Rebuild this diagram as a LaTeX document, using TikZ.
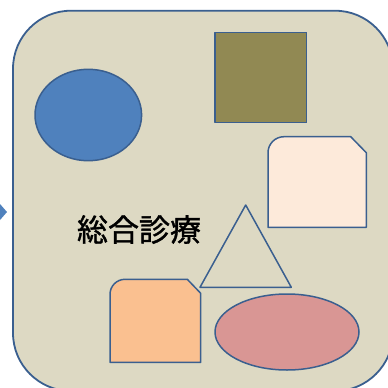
\documentclass[tikz,border=0pt]{standalone}
\usepackage{fontspec}
\newfontfamily\cjk[FakeBold=1.2]{Noto Sans CJK JP}
\definecolor{bg}{HTML}{DDD9C3}
\definecolor{edge}{HTML}{3A5F8F}
\definecolor{blue1}{HTML}{4F81BD}
\definecolor{olive}{HTML}{918953}
\definecolor{peach}{HTML}{FDEADA}
\definecolor{orange1}{HTML}{FAC090}
\definecolor{pink1}{HTML}{D99694}
\tikzset{shapeline/.style={draw=edge, line width=1.5pt, line join=round}}
\begin{document}
\begin{tikzpicture}[x=1pt,y=-1pt]
\useasboundingbox (0,0) rectangle (388,388);
% big rounded panel
\draw[shapeline, fill=bg, line width=1.8pt, rounded corners=58] (13,10.7) rectangle (393,391);
% arrow tip at left edge
\fill[blue1] (0,204) -- (7,212) -- (0,220) -- cycle;
% blue ellipse
\draw[shapeline, fill=blue1] (88.3,115) ellipse [x radius=53.3, y radius=45.7];
% olive square
\draw[shapeline, fill=olive] (215,32.3) rectangle (306.7,122.7);
% peach snip/round rectangle
\draw[shapeline, fill=peach] (268,227.3) [rounded corners=16]-- (268,136.7) [sharp corners]-- (350.7,136.7) -- (366.3,152.7) -- (366.3,227.3) -- cycle;
% orange snip/round rectangle
\draw[shapeline, fill=orange1] (110,362.3) [rounded corners=15]-- (110,279.3) [sharp corners]-- (187.3,279.3) -- (200.7,293.3) -- (200.7,362.3) -- cycle;
% triangle
\draw[shapeline] (245.7,205) -- (291.3,287.3) -- (200,287.3) -- cycle;
% pink ellipse
\draw[shapeline, fill=pink1] (287,332) ellipse [x radius=72, y radius=38];
% label
\node[inner sep=0pt, font=\cjk\fontsize{31}{31}\selectfont] (label) at (139,229.5) {総合診療};
\end{tikzpicture}
\end{document}
